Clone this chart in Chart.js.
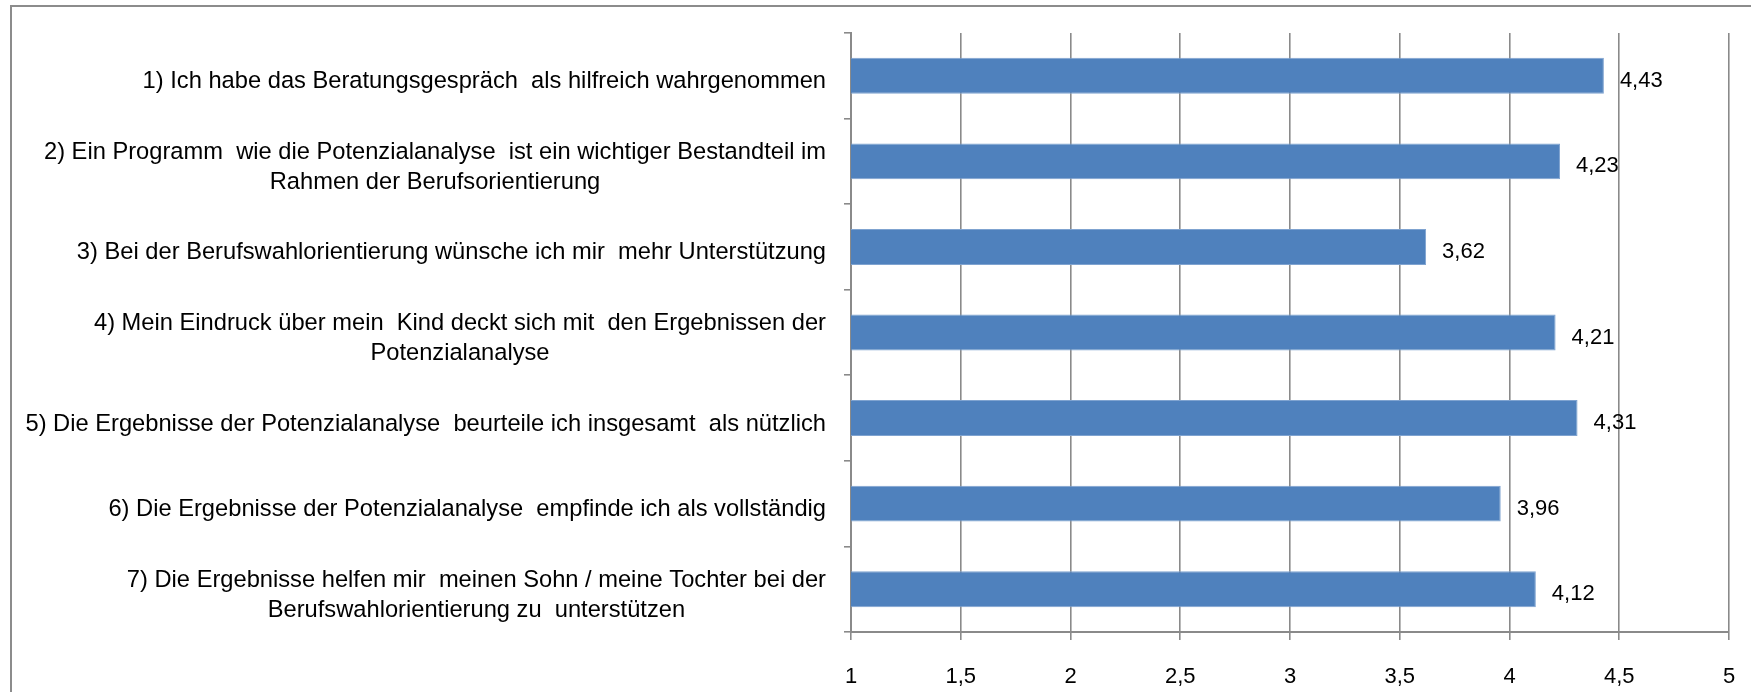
<!DOCTYPE html>
<html>
<head>
<meta charset="utf-8">
<script src="https://cdn.jsdelivr.net/npm/chart.js@4/dist/chart.umd.min.js"></script>
<style>
    body { margin: 0; background: #fff; }
    #frame {
        position: absolute; left: 10px; top: 5px; width: 1741px; height: 687px;
        border-left: 2px solid #8c8c8c; border-top: 2px solid #8c8c8c;
    }
    #chartBars { position: absolute; left: 0; top: 0; }
</style>
</head>
<body>
<div id="frame"></div>
<canvas id="chartBars" width="1751" height="692"></canvas>
<script>
const categories = [
    ["1) Ich habe das Beratungsgespräch  als hilfreich wahrgenommen"],
    ["2) Ein Programm  wie die Potenzialanalyse  ist ein wichtiger Bestandteil im", "Rahmen der Berufsorientierung"],
    ["3) Bei der Berufswahlorientierung wünsche ich mir  mehr Unterstützung"],
    ["4) Mein Eindruck über mein  Kind deckt sich mit  den Ergebnissen der", "Potenzialanalyse"],
    ["5) Die Ergebnisse der Potenzialanalyse  beurteile ich insgesamt  als nützlich"],
    ["6) Die Ergebnisse der Potenzialanalyse  empfinde ich als vollständig"],
    ["7) Die Ergebnisse helfen mir  meinen Sohn / meine Tochter bei der", "Berufswahlorientierung zu  unterstützen"]
];
const meanValues = [4.43, 4.23, 3.62, 4.21, 4.31, 3.96, 4.12];
const xTicks = ["1", "1,5", "2", "2,5", "3", "3,5", "4", "4,5", "5"];

const FAMILY = "'Liberation Sans', Arial, sans-serif";
const LABEL_FONT = "23.7px " + FAMILY;
const VALUE_FONT = "22px " + FAMILY;
const GRID_COLOR = "#8a8a8a";

function formatValue(v) {
    return v.toFixed(2).replace(".", ",");
}

// category labels: box right-aligned to the axis, lines centred inside the box
const categoryLabels = {
    id: "categoryLabels",
    afterDraw(chart) {
        const ctx = chart.ctx;
        const yScale = chart.scales.y;
        const right = chart.chartArea.left - 25;
        const lineHeight = 30;
        ctx.save();
        ctx.font = LABEL_FONT;
        ctx.fillStyle = "#000";
        ctx.textAlign = "center";
        ctx.textBaseline = "middle";
        categories.forEach((lines, i) => {
            let widest = 0;
            lines.forEach(l => { widest = Math.max(widest, ctx.measureText(l).width); });
            const cx = right - widest / 2;
            const cy = yScale.getPixelForValue(i) + 6;
            const y0 = cy - (lines.length - 1) * lineHeight / 2;
            lines.forEach((l, k) => ctx.fillText(l, cx, y0 + k * lineHeight));
        });
        ctx.restore();
    }
};

// value labels right of each bar
const valueLabels = {
    id: "valueLabels",
    afterDatasetsDraw(chart) {
        const ctx = chart.ctx;
        const meta = chart.getDatasetMeta(0);
        ctx.save();
        ctx.font = VALUE_FONT;
        ctx.fillStyle = "#000";
        ctx.textAlign = "left";
        ctx.textBaseline = "middle";
        meta.data.forEach((bar, i) => {
            ctx.fillText(formatValue(meanValues[i]), bar.x + 16, bar.y + 5);
        });
        ctx.restore();
    }
};

const config = {
    type: "bar",
    data: {
        labels: categories.map(c => c.join(" ")),
        datasets: [{
            data: meanValues,
            backgroundColor: "#4f81bd",
            borderColor: "#7fa3d0",
            borderWidth: 1,
            borderSkipped: false,
            barPercentage: 0.42,
            categoryPercentage: 1.0
        }]
    },
    options: {
        indexAxis: "y",
        responsive: false,
        animation: false,
        layout: {
            padding: { left: 0, right: 22, top: 33, bottom: 0 }
        },
        plugins: {
            legend: { display: false },
            tooltip: { enabled: false }
        },
        scales: {
            x: {
                type: "linear",
                min: 1,
                max: 5,
                ticks: {
                    stepSize: 0.5,
                    color: "#000",
                    font: { family: FAMILY, size: 22 },
                    padding: 24,
                    maxRotation: 0,
                    callback: function(value, index) {
                        return xTicks[index];
                    }
                },
                grid: {
                    color: GRID_COLOR,
                    lineWidth: 1.6,
                    drawTicks: true,
                    tickLength: 8
                },
                border: { display: true, color: GRID_COLOR, width: 2 },
                afterFit: function(scale) {
                    scale.height = 60;
                    scale.paddingLeft = 0;
                    scale.paddingRight = 0;
                }
            },
            y: {
                type: "category",
                ticks: { display: false },
                grid: {
                    offset: true,
                    drawOnChartArea: false,
                    drawTicks: true,
                    tickLength: 7,
                    color: GRID_COLOR,
                    lineWidth: 1.6
                },
                border: { display: true, color: GRID_COLOR, width: 2 },
                afterFit: function(scale) { scale.width = 851; }
            }
        }
    },
    plugins: [categoryLabels, valueLabels]
};

const chartBars = new Chart(document.getElementById("chartBars"), config);
</script>
</body>
</html>
